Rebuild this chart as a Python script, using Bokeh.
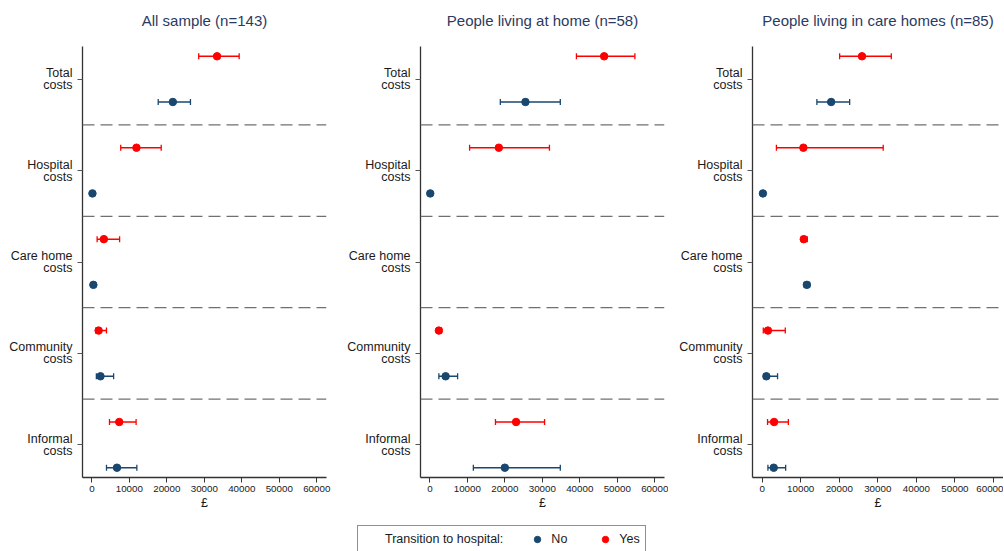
import math
from bokeh.plotting import figure
from bokeh.layouts import row, column
from bokeh.models import (ColumnDataSource, Range1d, FixedTicker, Span, Whisker, TeeHead,
                          Legend, LegendItem)
from bokeh.core.properties import value
from bokeh.embed import file_html
from bokeh.resources import INLINE

NAN = float("nan")

categories = ["Total\ncosts", "Hospital\ncosts", "Care home\ncosts", "Community\ncosts", "Informal\ncosts"]
x_ticks = [0, 10000, 20000, 30000, 40000, 50000, 60000]
panel_titles = ["All sample (n=143)", "People living at home (n=58)", "People living in care homes (n=85)"]
legend_title = "Transition to hospital:"
group_labels = ["No", "Yes"]

# All sample
all_no_mean = [21600, 150, 400, 2300, 6700]
all_no_lo = [17700, 50, 200, 1200, 3900]
all_no_hi = [26300, 300, 700, 5800, 12000]
all_yes_mean = [33400, 11900, 3200, 1800, 7300]
all_yes_lo = [28500, 7700, 1400, 1000, 4700]
all_yes_hi = [39300, 18500, 7400, 3900, 11800]

# People living at home
home_no_mean = [25500, 100, NAN, 4200, 20000]
home_no_lo = [18800, 50, NAN, 2400, 11600]
home_no_hi = [34800, 200, NAN, 7400, 34800]
home_yes_mean = [46500, 18400, NAN, 2400, 23000]
home_yes_lo = [39100, 10600, NAN, 1800, 17500]
home_yes_hi = [54700, 31900, NAN, 3100, 30600]

# People living in care homes
care_no_mean = [17900, 200, 11600, 1100, 3000]
care_no_lo = [14200, 100, 10900, 400, 1500]
care_no_hi = [22700, 350, 12300, 4000, 6100]
care_yes_mean = [25900, 10700, 10800, 1500, 3100]
care_yes_lo = [20100, 3700, 10200, 300, 1400]
care_yes_hi = [33500, 31400, 11700, 6000, 6800]

panels = [
    (all_no_mean, all_no_lo, all_no_hi, all_yes_mean, all_yes_lo, all_yes_hi),
    (home_no_mean, home_no_lo, home_no_hi, home_yes_mean, home_yes_lo, home_yes_hi),
    (care_no_mean, care_no_lo, care_no_hi, care_yes_mean, care_yes_lo, care_yes_hi),
]

BLUE = "#1a476f"
RED = "#ff0000"
FONT = "Liberation Sans"

n = len(categories)
cat_pos = [n - i for i in range(n)]  # Total at top
offsets = {"No": -0.25, "Yes": 0.25}

widths = [336, 332, 335]
borders_left = [82, 84, 84]
borders_right = [10, 4, 0]
TOP = 46          # height of the title strip
FRAME_H = 431
H = 469           # panel height (frame + x axis)
TOTAL_W = sum(widths)

# ---- title strip ----
ts = figure(width=TOTAL_W, height=TOP, output_backend="svg", toolbar_location=None,
            x_range=Range1d(0, TOTAL_W), y_range=Range1d(0, TOP),
            min_border_left=0, min_border_right=0, min_border_top=0, min_border_bottom=0,
            x_axis_location=None, y_axis_location=None)
ts.outline_line_color = None
ts.xgrid.visible = False
ts.ygrid.visible = False
title_x = []
left = 0
for k in range(3):
    fw = widths[k] - borders_left[k] - borders_right[k]
    title_x.append(left + borders_left[k] + fw / 2)
    left += widths[k]
ts.text(x=title_x, y=[TOP - 19.5] * 3, text=panel_titles, text_align="center",
        text_baseline="middle", text_font=value(FONT), text_font_size=value("15px"),
        text_color="#2b3a5f")

figs = []
for k, (nm, nl, nh, ym, yl, yh) in enumerate(panels):
    p = figure(width=widths[k], height=H, output_backend="svg", toolbar_location=None,
               x_range=Range1d(-2500, 62600), y_range=Range1d(0.643, n + 0.357),
               min_border_left=borders_left[k], min_border_right=borders_right[k],
               min_border_top=0, min_border_bottom=H - FRAME_H)
    p.outline_line_color = None
    p.xgrid.visible = False
    p.ygrid.visible = False
    p.background_fill_color = "white"
    p.border_fill_color = "white"

    # separators between categories
    for i in range(1, n):
        p.add_layout(Span(location=i + 0.5, dimension="width", line_color="#707070",
                          line_width=1.2, line_dash="12 6"))

    for label, color, (m, lo, hi) in [("No", BLUE, (nm, nl, nh)), ("Yes", RED, (ym, yl, yh))]:
        rows = [(cat_pos[i] + offsets[label], m[i], lo[i], hi[i]) for i in range(n)
                if not math.isnan(m[i])]
        src = ColumnDataSource(dict(y=[r[0] for r in rows], m=[r[1] for r in rows],
                                    lo=[r[2] for r in rows], hi=[r[3] for r in rows]))
        w = Whisker(source=src, base="y", lower="lo", upper="hi", dimension="width",
                    line_color=color, line_width=1.5,
                    upper_head=TeeHead(size=6, line_color=color, line_width=1.3),
                    lower_head=TeeHead(size=6, line_color=color, line_width=1.3))
        p.add_layout(w)
        p.scatter(x="m", y="y", source=src, size=7.5, marker="circle",
                  fill_color=color, line_color=color)

    # y axis
    p.yaxis.ticker = FixedTicker(ticks=cat_pos)
    p.yaxis.major_label_overrides = {cat_pos[i]: categories[i] for i in range(n)}
    p.yaxis.major_label_text_font = FONT
    p.yaxis.major_label_text_font_size = "12.5px"
    p.yaxis.major_label_text_color = "#1a1a1a"
    p.yaxis.major_label_text_line_height = 0.85
    p.yaxis.major_tick_out = 5
    p.yaxis.major_tick_in = 0
    p.yaxis.minor_tick_line_color = None
    p.yaxis.major_tick_line_color = "#555555"
    p.yaxis.axis_line_color = "#333333"
    p.yaxis.axis_line_width = 1.3
    p.yaxis.major_label_standoff = 5

    # x axis
    p.xaxis.ticker = FixedTicker(ticks=x_ticks)
    p.xaxis.major_label_text_font = FONT
    p.xaxis.major_label_text_font_size = "9.8px"
    p.xaxis.major_label_text_color = "#1a1a1a"
    p.xaxis.major_tick_out = 5
    p.xaxis.major_tick_in = 0
    p.xaxis.minor_tick_line_color = None
    p.xaxis.major_tick_line_color = "#333333"
    p.xaxis.axis_line_color = "#333333"
    p.xaxis.axis_line_width = 1.3
    p.xaxis.major_label_standoff = 3
    p.xaxis.axis_label = "£"
    p.xaxis.axis_label_text_font = FONT
    p.xaxis.axis_label_text_font_size = "12.5px"
    p.xaxis.axis_label_text_font_style = "normal"
    p.xaxis.axis_label_text_color = "#1a1a1a"
    p.xaxis.axis_label_standoff = 1
    figs.append(p)

# ---- legend strip below the panels ----
LH = 36
lg = figure(width=TOTAL_W, height=LH, output_backend="svg", toolbar_location=None,
            x_range=Range1d(0, 1), y_range=Range1d(0, 1),
            min_border_left=0, min_border_right=0, min_border_top=0, min_border_bottom=0,
            x_axis_location=None, y_axis_location=None)
lg.outline_line_color = None
lg.xgrid.visible = False
lg.ygrid.visible = False
dummy = lg.scatter(x=[NAN], y=[NAN], size=1, fill_alpha=0, line_alpha=0)
r_no = lg.scatter(x=[NAN], y=[NAN], size=7, fill_color=BLUE, line_color=BLUE)
r_yes = lg.scatter(x=[NAN], y=[NAN], size=7, fill_color=RED, line_color=RED)
legend = Legend(items=[LegendItem(label=legend_title, renderers=[dummy]),
                       LegendItem(label=group_labels[0], renderers=[r_no]),
                       LegendItem(label=group_labels[1], renderers=[r_yes])],
                orientation="horizontal", location=(357, -2),
                glyph_width=16, glyph_height=16, label_standoff=6, spacing=26,
                padding=5, label_text_font=FONT, label_text_font_size="12.5px",
                label_text_color="#1a1a1a", border_line_color="#222222",
                border_line_width=1, background_fill_color="white",
                background_fill_alpha=1)
lg.add_layout(legend, "center")

layout = column(ts, row(*figs, spacing=0), lg, spacing=0)
open("out.html", "w").write(file_html(layout, INLINE))
